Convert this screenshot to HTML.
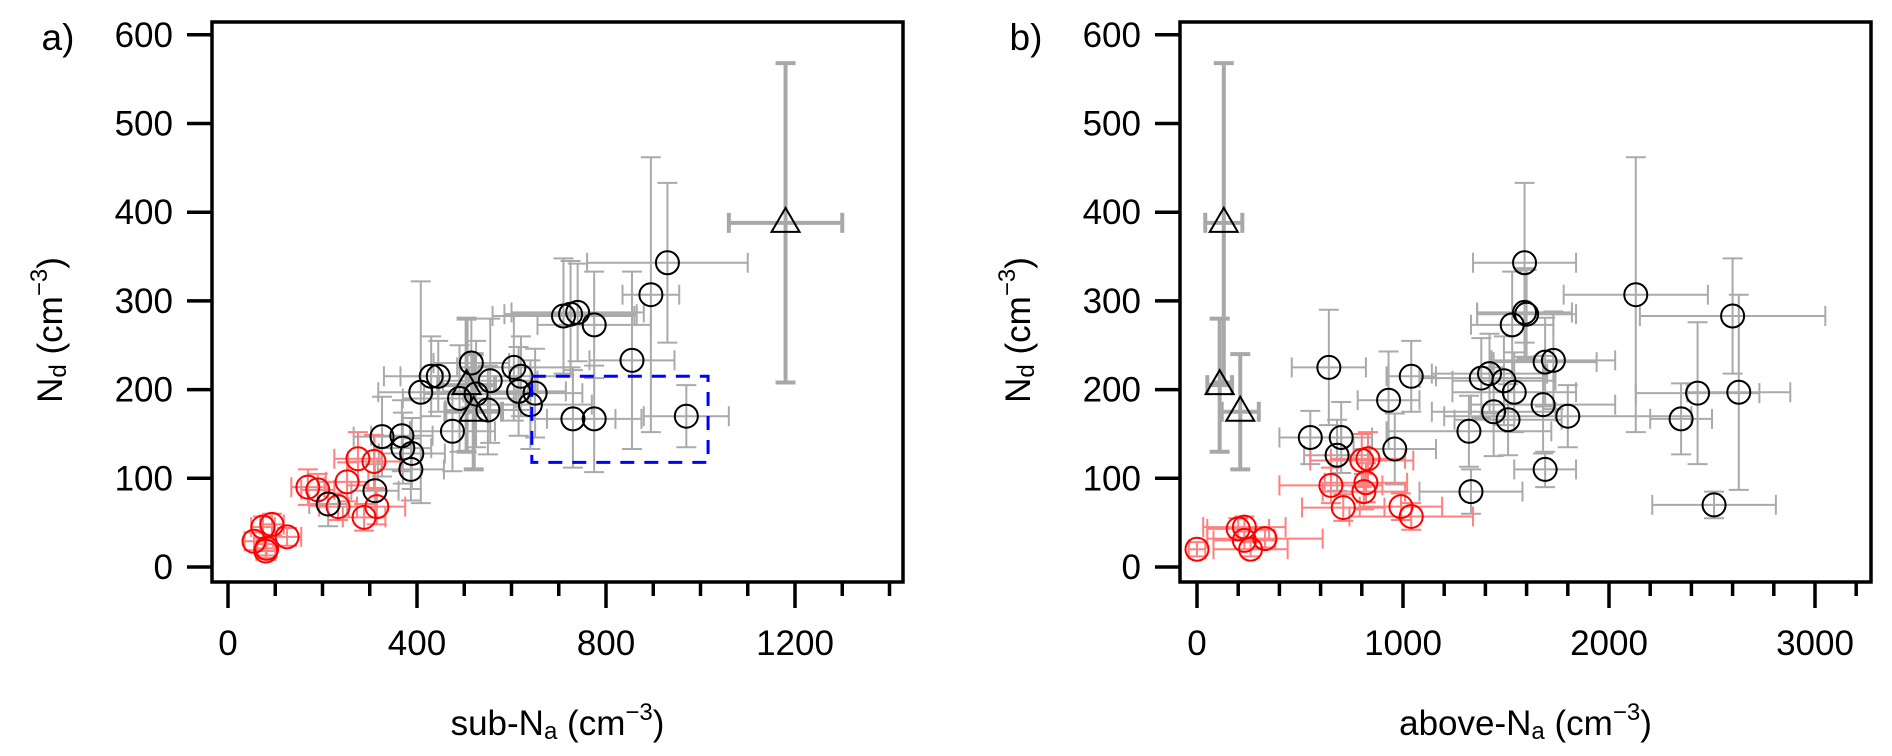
<!DOCTYPE html>
<html><head><meta charset="utf-8"><style>
html,body{margin:0;padding:0;background:#fff;}
svg{display:block;font-family:"Liberation Sans",Arial,sans-serif;}
</style></head><body>
<svg id="chart" width="1892" height="756" viewBox="0 0 1892 756" xmlns="http://www.w3.org/2000/svg"></svg>
<script>
// ---------- Panel a data (sub-Na vs Nd) ----------
const aRedX = [55,74,93,80,82,125,169,190,233,252,275,288,309,315];
const aRedY = [29,45,48,18,21,34,90,87,68,96,122,56,119,68];
const aRedXe = [20,25,25,20,20,30,35,35,40,45,50,45,55,60];
const aRedYe = [10,12,12,8,8,10,20,18,15,22,30,15,30,20];
const aBlkX = [212,311,326,368,370,389,387,408,430,445,475,490,515,525,555,550,605,615,620,640,650,710,725,740,775,730,775,855,895,930,970];
const aBlkY = [71,86,147,148,134,128,110,197,215,215,153,190,230,195,210,177,225,198,215,183,196,283,285,287,273,167,167,233,307,343,170];
const aBlkXe = [40,50,60,65,60,70,70,90,100,80,90,120,80,110,100,90,120,100,110,130,100,150,140,140,120,90,100,90,60,170,90];
const aBlkYe = [25,30,45,40,40,40,35,125,45,40,45,60,50,60,70,50,60,50,45,50,50,65,60,55,60,55,60,100,155,90,35];
const aTriX = [505,520,1180];
const aTriY = [205,175,388];
const aTriXe = [60,60,120];
const aTriYe = [75,65,180];
const aTicks = [0,400,800,1200];
// ---------- Panel b data (above-Na vs Nd) ----------
const bRedX = [0,200,230,230,260,330,650,710,800,820,830,810,990,1040];
const bRedY = [20,43,45,30,20,32,92,67,120,95,122,85,68,57];
const bRedXe = [40,150,200,150,180,280,250,200,250,200,180,200,200,300];
const bRedYe = [8,12,12,10,8,10,20,15,30,22,30,20,15,15];
const bBlkX = [550,640,680,700,930,960,1040,1320,1330,1380,1420,1440,1490,1510,1530,1540,1590,1590,1600,1680,1690,1690,1730,1800,2130,2350,2430,2510,2600,2630];
const bBlkY = [146,225,126,146,188,133,215,153,85,213,218,175,210,166,273,197,343,287,285,183,231,110,233,170,307,167,196,70,283,197];
const bBlkXe = [150,180,160,150,150,200,120,400,250,300,280,300,250,260,200,300,250,230,240,350,250,150,300,600,350,150,300,300,450,250];
const bBlkYe = [30,65,40,40,55,40,40,40,25,45,45,50,50,40,60,45,90,50,50,55,50,20,55,35,155,40,80,15,65,110];
const bTriX = [110,130,210];
const bTriY = [205,388,175];
const bTriXe = [60,90,90];
const bTriYe = [75,180,65];
const bTicks = [0,1000,2000,3000];
const yTicks = [0,100,200,300,400,500,600];

const NS = "http://www.w3.org/2000/svg";
const svg = document.getElementById('chart');
function mk(tag, attrs, parent){
  const e = document.createElementNS(NS, tag);
  for (const k in attrs) e.setAttribute(k, attrs[k]);
  (parent||svg).appendChild(e);
  return e;
}
const Y0 = 567, YS = 0.887;
function yPos(v){ return Y0 - v*YS; }

function panel(cfg){
  const g = mk('g', {});
  
  
  const xPos = v => cfg.x0 + v*cfg.xs;
  const L = cfg.left, R = cfg.left + 691, T = 22, B = 582;
  function errs(xs, ys, xe, ye, color, w, cap, nm){
    const eg = mk('g', {stroke: color, 'stroke-width': w, fill:'none'}, g);
    
    
    for (let i=0;i<xs.length;i++){
      const cx = xPos(xs[i]), cy = yPos(ys[i]);
      const x1 = xPos(xs[i]-xe[i]), x2 = xPos(xs[i]+xe[i]);
      const y1 = yPos(ys[i]-ye[i]), y2 = yPos(ys[i]+ye[i]);
      mk('line', {x1:x1, y1:cy, x2:x2, y2:cy}, eg);
      mk('line', {x1:cx, y1:y1, x2:cx, y2:y2}, eg);
      mk('line', {x1:x1, y1:cy-cap, x2:x1, y2:cy+cap}, eg);
      mk('line', {x1:x2, y1:cy-cap, x2:x2, y2:cy+cap}, eg);
      mk('line', {x1:cx-cap, y1:y1, x2:cx+cap, y2:y1}, eg);
      mk('line', {x1:cx-cap, y1:y2, x2:cx+cap, y2:y2}, eg);
    }
  }
  errs(cfg.bx, cfg.by, cfg.bxe, cfg.bye, '#aaaaaa', 2, 10, 'black-series-error-bars');
  errs(cfg.tx, cfg.ty, cfg.txe, cfg.tye, '#a8a8a8', 4, 10, 'triangle-series-error-bars');
  errs(cfg.rx, cfg.ry, cfg.rxe, cfg.rye, '#ff8080', 2, 10, 'red-series-error-bars');
  for (let i=0;i<cfg.rx.length;i++){
    const c = mk('circle', {cx:xPos(cfg.rx[i]), cy:yPos(cfg.ry[i]), r:11.5, fill:'none', stroke:'#ff0000', 'stroke-width':2}, g);
    
    
  }
  for (let i=0;i<cfg.bx.length;i++){
    const c = mk('circle', {cx:xPos(cfg.bx[i]), cy:yPos(cfg.by[i]), r:11.5, fill:'none', stroke:'#000', 'stroke-width':2}, g);
    
    
  }
  for (let i=0;i<cfg.tx.length;i++){
    const cx = xPos(cfg.tx[i]), cy = yPos(cfg.ty[i]);
    const p = mk('polygon', {points:`${cx},${cy-15} ${cx-14},${cy+9} ${cx+14},${cy+9}`, fill:'none', stroke:'#000', 'stroke-width':2}, g);
    
    
  }
  if (cfg.rect){
    const r = cfg.rect;
    const rc = mk('rect', {x:xPos(r[0]), y:yPos(r[3]), width:xPos(r[1])-xPos(r[0]), height:yPos(r[2])-yPos(r[3]), fill:'none', stroke:'#0000ff', 'stroke-width':3, 'stroke-dasharray':'14,10'}, g);
    
    
  }
  const fr = mk('rect', {x:L, y:T, width:R-L, height:B-T, fill:'none', stroke:'#000', 'stroke-width':3.5}, g);
  
  
  const yg = mk('g', {}, g);
  
  
  yTicks.forEach(v=>{
    mk('line', {x1:L-25, y1:yPos(v), x2:L, y2:yPos(v), stroke:'#000', 'stroke-width':3.5}, yg);
    const t = mk('text', {x:L-39, y:yPos(v)+12, 'text-anchor':'end', 'font-size':35}, yg);
    
    
    t.textContent = v;
  });
  const xg = mk('g', {}, g);
  
  
  for (let v=0; v<=cfg.maxMinor; v+=cfg.minor){
    const major = cfg.ticks.includes(v);
    mk('line', {x1:xPos(v), y1:B, x2:xPos(v), y2:B+(major?26:14), stroke:'#000', 'stroke-width':3.5}, xg);
  }
  cfg.ticks.forEach(v=>{
    const t = mk('text', {x:xPos(v), y:655, 'text-anchor':'middle', 'font-size':35}, xg);
    
    
    t.textContent = v;
  });
  const xt = mk('text', {x:(L+R)/2, y:735, 'text-anchor':'middle', 'font-size':35}, g);
  
  
  xt.innerHTML = cfg.xtitle + '<tspan font-size="24" dy="4">a</tspan><tspan dy="-4"> (cm</tspan><tspan font-size="24" dy="-15">−3</tspan><tspan dy="15">)</tspan>';
  const yt = mk('text', {x:0, y:0, 'text-anchor':'middle', 'font-size':35, transform:`translate(${L-150},330) rotate(-90)`}, g);
  
  
  yt.innerHTML = 'N<tspan font-size="24" dy="4">d</tspan><tspan dy="-4"> (cm</tspan><tspan font-size="24" dy="-15">−3</tspan><tspan dy="15">)</tspan>';
  const pl = mk('text', {x:L-154, y:50, 'text-anchor':'middle', 'font-size':37}, g);
  
  
  pl.textContent = cfg.label;
}

panel({name:'panel-a', label:'a)', left:212, x0:228, xs:0.4725, ticks:aTicks, minor:100, maxMinor:1400,
  rx:aRedX, ry:aRedY, rxe:aRedXe, rye:aRedYe, bx:aBlkX, by:aBlkY, bxe:aBlkXe, bye:aBlkYe,
  tx:aTriX, ty:aTriY, txe:aTriXe, tye:aTriYe, rect:[643,1016,118,215], xtitle:'sub-N'});
panel({name:'panel-b', label:'b)', left:1180, x0:1197, xs:0.206, ticks:bTicks, minor:200, maxMinor:3200,
  rx:bRedX, ry:bRedY, rxe:bRedXe, rye:bRedYe, bx:bBlkX, by:bBlkY, bxe:bBlkXe, bye:bBlkYe,
  tx:bTriX, ty:bTriY, txe:bTriXe, tye:bTriYe, rect:null, xtitle:'above-N'});
</script>
</body></html>
